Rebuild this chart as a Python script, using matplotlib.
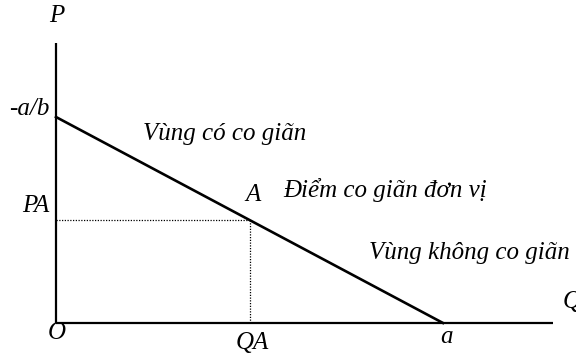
import numpy as np
import matplotlib
matplotlib.use('Agg')
import matplotlib.pyplot as plt

# demand curve P = a/b - Q/b, scaled so a = 1 and -a/b = 1
demand_q = [0.0, 1.0]
demand_p = [1.0, 0.0]
point_a = (0.5, 0.5)       # unit-elastic point (midpoint)
q_axis_end = 1.284
p_axis_end = 1.359

plt.rcParams['font.family'] = ['Liberation Serif', 'DejaVu Serif']

fig = plt.figure(figsize=(5.76, 3.6), dpi=100)
ax = fig.add_axes([0, 0, 1, 1])
ax.set_xlim(-56/387, 520/387)
ax.set_ylim(-37/206, 323/206)
ax.axis('off')

# axes
ax.plot([0, q_axis_end], [0, 0], color='black', lw=1.6, solid_capstyle='butt')
ax.plot([0, 0], [0, p_axis_end], color='black', lw=1.6, solid_capstyle='butt')

# demand line
ax.plot(demand_q, demand_p, color='black', lw=1.9)

# dotted guides to A
qa, pa = point_a
ax.plot([0, qa], [pa, pa], color='black', lw=0.9, ls=(0, (1, 1.2)))
ax.plot([qa, qa], [0, pa], color='black', lw=0.9, ls=(0, (1, 1.2)))

fs = 18
kw = dict(fontsize=fs, style='italic', va='center')
ax.text(0.003, 1.49, 'P', ha='center', **kw)
ax.text(-0.016, 1.04, '-a/b', ha='right', **kw)
ax.text(-0.018, 0.57, 'PA', ha='right', **kw)
ax.text(0.003, -0.05, 'O', ha='center', **kw)
ax.text(0.508, -0.097, 'QA', ha='center', **kw)
ax.text(1.008, -0.068, 'a', ha='center', **kw)
ax.text(1.31, 0.102, 'Q', ha='left', **kw)
ax.text(0.51, 0.62, 'A', ha='center', **kw)
ax.text(0.587, 0.646, 'Điểm co giãn đơn vị', ha='left', **kw)
ax.text(0.225, 0.918, 'Vùng có co giãn', ha='left', **kw)
ax.text(0.81, 0.34, 'Vùng không co giãn', ha='left', **kw)

fig.savefig('out.png', dpi=100)
